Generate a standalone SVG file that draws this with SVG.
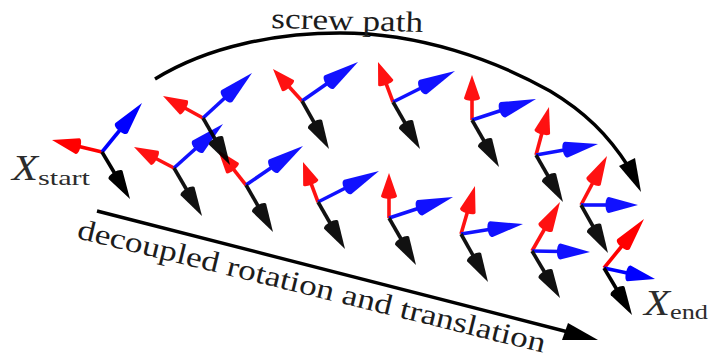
<svg xmlns="http://www.w3.org/2000/svg" width="709" height="360" viewBox="0 0 709 360">
<style>
.r{fill:#ff0000}.b{fill:#0000ff}.k{fill:#000}
.mid{opacity:.93}
.line{fill:none;stroke:#000;stroke-width:3.4}
text{font-family:"Liberation Serif","Times New Roman",serif;fill:#1c1c1c}
.lab{font-size:29px}
.x{font-size:36px;font-style:italic;fill:#2c2c2c}
.s{font-size:22px;fill:#2c2c2c}
</style>
<defs>
<g id="a"><path d="M0,-1.8H50V1.8H0Z"/><path d="M100,0L49,-8C45.5,-8.2 43,-5 43,0C43,5 45.5,8.2 49,8Z"/></g>
</defs>
<rect width="709" height="360" fill="#fff"/>
<g id="connectors">
<path class="line" d="M155,79C210,45 280,33 340,33C420,33 495,60 550,91C585,112 608,135 628,166"/>
<polygon class="k" points="619,166 635,158 641,192"/>
<path class="line" d="M97,211L572,333"/>
<polygon class="k" points="568,323 562,340 598,340"/>
</g>
<g id="f3" class="mid"><use href="#a" class="r" transform="matrix(-.4 -.21 .465 -.885 174 168)"/><use href="#a" class="b" transform="matrix(.49 -.44 .668 .744 174 168)"/><use href="#a" class="k" transform="matrix(.28 .48 -.863 .504 174 168)"/></g>
<g id="f5" class="mid"><use href="#a" class="r" transform="matrix(-.28 -.35 .781 -.625 246 185)"/><use href="#a" class="b" transform="matrix(.57 -.39 .564 .825 246 185)"/><use href="#a" class="k" transform="matrix(.27 .47 -.867 .498 246 185)"/></g>
<g id="f7" class="mid"><use href="#a" class="r" transform="matrix(-.15 -.4 .937 -.351 318 202)"/><use href="#a" class="b" transform="matrix(.61 -.31 .453 .892 318 202)"/><use href="#a" class="k" transform="matrix(.27 .47 -.867 .498 318 202)"/></g>
<g id="f8" class="mid"><use href="#a" class="r" transform="matrix(0 -.45 1 0 389 218)"/><use href="#a" class="b" transform="matrix(.64 -.21 .312 .95 389 218)"/><use href="#a" class="k" transform="matrix(.27 .47 -.867 .498 389 218)"/></g>
<g id="f11" class="mid"><use href="#a" class="r" transform="matrix(.14 -.48 .96 .28 461 234)"/><use href="#a" class="b" transform="matrix(.62 -.1 .159 .987 461 234)"/><use href="#a" class="k" transform="matrix(.27 .48 -.871 .49 461 234)"/></g>
<g id="f12" class="mid"><use href="#a" class="r" transform="matrix(.28 -.49 .869 .496 532 251)"/><use href="#a" class="b" transform="matrix(.58 .01 -.017 1 532 251)"/><use href="#a" class="k" transform="matrix(.28 .47 -.859 .512 532 251)"/></g>
<g id="f14"><use href="#a" class="r" transform="matrix(.4 -.49 .774 .632 604 268)"/><use href="#a" class="b" transform="matrix(.51 .11 -.211 .977 604 268)"/><use href="#a" class="k" transform="matrix(.28 .47 -.859 .512 604 268)"/></g>
<g id="f1"><use href="#a" class="r" transform="matrix(-.5 -.12 .233 -.973 102 152)"/><use href="#a" class="b" transform="matrix(.4 -.49 .774 .632 102 152)"/><use href="#a" class="k" transform="matrix(.28 .47 -.859 .512 102 152)"/></g>
<g id="f2" class="mid"><use href="#a" class="r" transform="matrix(-.4 -.22 .481 -.875 203 118)"/><use href="#a" class="b" transform="matrix(.49 -.45 .677 .737 203 118)"/><use href="#a" class="k" transform="matrix(.27 .47 -.867 .498 203 118)"/></g>
<g id="f4" class="mid"><use href="#a" class="r" transform="matrix(-.29 -.32 .741 -.671 302 101)"/><use href="#a" class="b" transform="matrix(.56 -.39 .572 .821 302 101)"/><use href="#a" class="k" transform="matrix(.27 .48 -.871 .49 302 101)"/></g>
<g id="f6" class="mid"><use href="#a" class="r" transform="matrix(-.15 -.4 .937 -.351 393 102)"/><use href="#a" class="b" transform="matrix(.62 -.31 .447 .894 393 102)"/><use href="#a" class="k" transform="matrix(.27 .47 -.867 .498 393 102)"/></g>
<g id="f9" class="mid"><use href="#a" class="r" transform="matrix(0 -.45 1 0 472 120)"/><use href="#a" class="b" transform="matrix(.64 -.21 .312 .95 472 120)"/><use href="#a" class="k" transform="matrix(.27 .47 -.867 .498 472 120)"/></g>
<g id="f10" class="mid"><use href="#a" class="r" transform="matrix(.13 -.48 .966 .262 536 155)"/><use href="#a" class="b" transform="matrix(.62 -.11 .175 .984 536 155)"/><use href="#a" class="k" transform="matrix(.27 .47 -.867 .498 536 155)"/></g>
<g id="f13" class="mid"><use href="#a" class="r" transform="matrix(.26 -.49 .883 .468 581 205)"/><use href="#a" class="b" transform="matrix(.57 0 0 1 581 205)"/><use href="#a" class="k" transform="matrix(.27 .48 -.871 .49 581 205)"/></g>
<g id="labels">
<text class="lab" transform="translate(271,28) rotate(1.5)" textLength="152" lengthAdjust="spacingAndGlyphs">screw path</text>
<text class="lab" transform="translate(76,238) rotate(13.8)" textLength="481" lengthAdjust="spacingAndGlyphs">decoupled rotation and translation</text>
<text x="12" y="180" class="x" textLength="26" lengthAdjust="spacingAndGlyphs">X</text><text x="38" y="185" class="s" textLength="52" lengthAdjust="spacingAndGlyphs">start</text>
<text x="644" y="315" class="x" textLength="26" lengthAdjust="spacingAndGlyphs">X</text><text x="670" y="319" class="s" textLength="38" lengthAdjust="spacingAndGlyphs">end</text>
</g>
</svg>
